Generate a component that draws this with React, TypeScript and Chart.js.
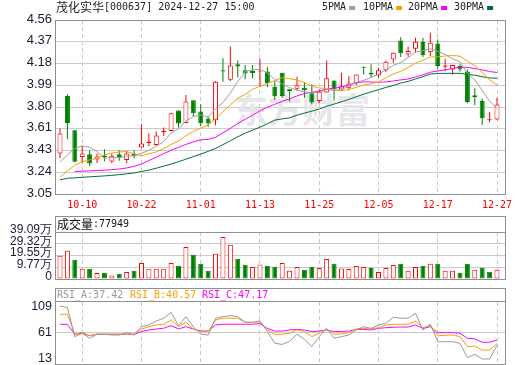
import React, { useEffect, useRef } from "react";
import { Chart, registerables } from "chart.js";

Chart.register(...registerables);

// ---------------- data ----------------
const stockName = "茂化实华";
const stockCode = "000637";
const stamp = "2024-12-27 15:00";

const dates = [
  "09-30", "10-08", "10-09", "10-10", "10-11", "10-14", "10-15", "10-16", "10-17", "10-18",
  "10-21", "10-22", "10-23", "10-24", "10-25", "10-28", "10-29", "10-30", "10-31", "11-01",
  "11-04", "11-05", "11-06", "11-07", "11-08", "11-11", "11-12", "11-13", "11-14", "11-15",
  "11-18", "11-19", "11-20", "11-21", "11-22", "11-25", "11-26", "11-27", "11-28", "11-29",
  "12-02", "12-03", "12-04", "12-05", "12-06", "12-09", "12-10", "12-11", "12-12", "12-13",
  "12-16", "12-17", "12-18", "12-19", "12-20", "12-23", "12-24", "12-25", "12-26", "12-27",
];

const openP = [
  3.402, 3.9, 3.603, 3.372, 3.395, 3.35, 3.384, 3.332, 3.395, 3.346,
  3.402, 3.453, 3.493, 3.476, 3.586, 3.597, 3.774, 3.667, 3.863, 3.765,
  3.705, 3.69, 4.123, 4.042, 4.175, 4.123, 4.117, 4.112, 4.112, 3.98,
  4.103, 3.958, 3.964, 3.973, 3.924, 3.857, 3.93, 4.036, 3.956, 3.973,
  4.008, 4.155, 4.103, 4.079, 4.125, 4.218, 4.383, 4.261, 4.311, 4.368,
  4.281, 4.357, 4.155, 4.131, 4.16, 4.112, 3.906, 3.857, 3.69, 3.696,
];
const highP = [
  3.618, 3.915, 3.605, 3.467, 3.43, 3.402, 3.439, 3.402, 3.43, 3.424,
  3.43, 3.655, 3.577, 3.592, 3.627, 3.755, 3.776, 3.909, 3.865, 3.828,
  3.727, 4.03, 4.227, 4.331, 4.209, 4.169, 4.169, 4.224, 4.151, 4.03,
  4.103, 3.96, 4.068, 4.021, 4.002, 3.958, 4.209, 4.036, 4.103, 4.071,
  4.088, 4.155, 4.175, 4.146, 4.209, 4.278, 4.411, 4.328, 4.406, 4.406,
  4.449, 4.391, 4.224, 4.171, 4.175, 4.131, 3.967, 3.878, 3.762, 3.886,
];
const lowP = [
  3.361, 3.525, 3.325, 3.32, 3.294, 3.32, 3.335, 3.318, 3.338, 3.318,
  3.361, 3.45, 3.467, 3.47, 3.554, 3.595, 3.627, 3.665, 3.722, 3.641,
  3.632, 3.647, 4.025, 4.03, 4.06, 4.045, 4.054, 3.978, 3.978, 3.866,
  3.886, 3.852, 3.95, 3.886, 3.828, 3.837, 3.928, 3.863, 3.95, 3.95,
  3.996, 4.088, 4.06, 4.06, 4.108, 4.189, 4.238, 4.241, 4.276, 4.238,
  4.247, 4.137, 4.117, 4.088, 4.112, 3.837, 3.82, 3.649, 3.67, 3.694,
];
const closeP = [
  3.575, 3.666, 3.329, 3.402, 3.315, 3.376, 3.372, 3.381, 3.372, 3.402,
  3.378, 3.488, 3.505, 3.557, 3.597, 3.751, 3.661, 3.852, 3.751, 3.664,
  3.661, 4.025, 4.112, 4.166, 4.157, 4.095, 4.1, 4.12, 4.013, 3.898,
  3.9, 3.944, 3.993, 3.95, 3.843, 3.938, 4.054, 3.958, 3.984, 4.008,
  4.086, 4.146, 4.088, 4.123, 4.198, 4.276, 4.272, 4.29, 4.371, 4.255,
  4.363, 4.16, 4.166, 4.169, 4.131, 3.848, 3.892, 3.707, 3.699, 3.826,
];

const ma5 = [
  3.325, 3.39, 3.445, 3.467, 3.457, 3.418, 3.359, 3.369, 3.363, 3.381,
  3.381, 3.404, 3.429, 3.466, 3.505, 3.58, 3.614, 3.684, 3.722, 3.736,
  3.718, 3.791, 3.843, 3.926, 4.024, 4.111, 4.127, 4.133, 4.099, 4.045,
  4.005, 3.974, 3.95, 3.937, 3.926, 3.934, 3.956, 3.949, 3.955, 3.988,
  4.018, 4.036, 4.062, 4.09, 4.128, 4.166, 4.191, 4.233, 4.282, 4.294,
  4.311, 4.287, 4.263, 4.223, 4.198, 4.095, 4.041, 3.949, 3.855, 3.794,
];
const ma10 = [
  3.195, 3.25, 3.3, 3.33, 3.345, 3.36, 3.39, 3.405, 3.415, 3.419,
  3.399, 3.382, 3.399, 3.415, 3.443, 3.48, 3.509, 3.556, 3.594, 3.62,
  3.649, 3.702, 3.763, 3.824, 3.88, 3.914, 3.959, 3.985, 4.011, 4.035,
  4.059, 4.051, 4.039, 4.017, 3.986, 3.97, 3.965, 3.949, 3.946, 3.957,
  3.976, 3.996, 4.006, 4.023, 4.058, 4.092, 4.114, 4.148, 4.186, 4.211,
  4.239, 4.24, 4.248, 4.252, 4.246, 4.203, 4.165, 4.106, 4.039, 3.996,
];
const ma20 = [
  null, null, 3.245, 3.248, 3.251, 3.254, 3.257, 3.261, 3.267, 3.276,
  3.29, 3.31, 3.34, 3.37, 3.4, 3.43, 3.455, 3.48, 3.502, 3.52,
  3.524, 3.542, 3.581, 3.619, 3.661, 3.698, 3.734, 3.771, 3.803, 3.828,
  3.854, 3.876, 3.901, 3.921, 3.933, 3.942, 3.962, 3.967, 3.979, 3.996,
  4.017, 4.023, 4.022, 4.02, 4.022, 4.031, 4.04, 4.048, 4.066, 4.084,
  4.107, 4.118, 4.127, 4.138, 4.152, 4.148, 4.139, 4.127, 4.113, 4.104,
];
const ma30 = [
  3.173, 3.186, 3.19, 3.195, 3.199, 3.203, 3.207, 3.212, 3.218, 3.225,
  3.233, 3.245, 3.258, 3.274, 3.292, 3.31, 3.33, 3.352, 3.375, 3.396,
  3.42, 3.446, 3.478, 3.512, 3.546, 3.578, 3.604, 3.63, 3.66, 3.691,
  3.702, 3.711, 3.734, 3.752, 3.769, 3.788, 3.811, 3.83, 3.851, 3.871,
  3.894, 3.916, 3.936, 3.955, 3.975, 3.992, 4.013, 4.027, 4.048, 4.068,
  4.091, 4.096, 4.097, 4.097, 4.097, 4.088, 4.081, 4.068, 4.057, 4.055,
];

const volumes = [
  194000, 235000, 160000, 86000, 86000, 50000, 52000, 30000, 44000, 58000,
  69000, 133000, 86000, 86000, 86000, 133000, 111000, 266000, 202000, 127000,
  69000, 210000, 349000, 285000, 169000, 119000, 100000, 120000, 111000, 102000,
  133000, 69000, 100000, 77000, 102000, 91000, 166000, 127000, 88000, 83000,
  108000, 100000, 91000, 58000, 91000, 116000, 127000, 69000, 100000, 111000,
  127000, 127000, 69000, 69000, 52000, 127000, 77000, 94000, 61000, 77949,
];

const rsiA = [
  110.9, 108, 53.5, 59.8, 50.5, 58, 58, 56.6, 56.6, 61,
  56.6, 72.2, 75.4, 82.9, 87.9, 99.1, 74.1, 90.9, 72.2, 58,
  56.6, 87.9, 90.9, 92.8, 90.9, 80.4, 80.4, 83, 63, 41,
  39, 45, 58, 48.6, 35, 53.5, 69, 50.5, 53.5, 56.6,
  66, 72, 69, 75, 78.5, 89.8, 88, 88, 97.3, 66,
  77, 44, 44, 44, 41, 14.2, 20.5, 11.7, 11.7, 37.42,
];
const rsiB = [
  95.4, 95.4, 58, 61.7, 55.3, 58, 58, 58, 58, 58,
  58, 67.9, 72.2, 75.4, 76.7, 84.7, 72.2, 80.4, 67.9, 62.9,
  62.9, 84.7, 87.9, 87.9, 87.9, 80.4, 80.4, 81, 66, 58,
  58, 59.8, 66, 63, 53.5, 59.8, 68, 58, 58.5, 61,
  68, 69, 68, 70.3, 75.4, 76.7, 76.7, 76.7, 83, 70,
  75, 55, 56, 56.6, 53.5, 34.7, 35.9, 28.4, 28.4, 40.57,
];
const rsiC = [
  76.7, 76.7, 58, 59.8, 55.3, 58, 58, 58, 58, 58,
  58, 62.9, 66, 67.9, 69.2, 74.1, 67.9, 72.2, 67.9, 64.1,
  64.1, 75.4, 76.7, 76.7, 76.7, 76.7, 76.7, 78, 69, 64,
  64, 66, 67, 66, 63, 64, 66, 63, 63, 64,
  67, 67, 66, 69, 70.3, 71, 71.5, 71.5, 75.4, 69,
  72, 61, 61, 61, 60, 50.5, 49.3, 43, 43, 47.17,
];

const priceTickLabels = ["3.05", "3.24", "3.43", "3.61", "3.80", "3.99", "4.18", "4.37", "4.56"];
const priceMin = 3.05;
const priceMax = 4.56;
const volTickLabels = ["0", "9.77万", "19.55万", "29.32万", "39.09万"];
const volMax = 390900;
const rsiTicks = [13, 61, 109];
const dateTickIdx = [3, 11, 19, 27, 35, 43, 51, 59];

const maNames = ["5PMA", "10PMA", "20PMA", "30PMA"];
const maColors = ["#a0a0a0", "#f5a300", "#ff00ff", "#006f35"];
const rsiNames = ["RSI_A", "RSI_B", "RSI_C"];
const rsiColors = ["#999999", "#f5a300", "#ff00ff"];

// ---------------- styling ----------------
const RED = "#ff0000";
const GREEN = "#008000";
const BORDER = "#8f8f8f";
const GRID = "#cccccc";
const MONO = "'DejaVu Sans Mono', monospace";
const CJK = "'Noto Sans CJK SC', sans-serif";
const SANS = "'Liberation Sans', Arial, sans-serif";
const X_MIN = -0.675;
const X_MAX = 60.08;
const AXIS_W = 55;
const PAD_R = 15;

const idx = dates.map((_, i) => i);

function xAxis(showLabels: boolean) {
  return {
    type: "linear",
    min: X_MIN,
    max: X_MAX,
    offset: false,
    afterBuildTicks: (s: any) => {
      s.ticks = dateTickIdx.map((v) => ({ value: v }));
    },
    ticks: {
      display: showLabels,
      autoSkip: false,
      maxRotation: 0,
      minRotation: 0,
      color: RED,
      font: { family: MONO, size: 10 },
      padding: 5,
      callback: (v: any) => dates[v] ?? "",
    },
    grid: { color: "#c8c8c8", lineWidth: 1, drawTicks: false, offset: false },
    border: { display: false, dash: [4, 3] },
    afterFit: (s: any) => {
      s.height = showLabels ? 19 : 0;
      s.paddingLeft = 0;
      s.paddingRight = 0;
    },
  };
}

function yFit(s: any) {
  s.width = AXIS_W;
  s.paddingTop = 0;
  s.paddingBottom = 0;
}

function drawMono(ctx: CanvasRenderingContext2D, text: string, x: number, y: number, color: string) {
  ctx.font = `10px ${MONO}`;
  ctx.fillStyle = color;
  ctx.fillText(text, x, y);
}

export default function App() {
  const mainRef = useRef<HTMLCanvasElement>(null);
  const volRef = useRef<HTMLCanvasElement>(null);
  const rsiRef = useRef<HTMLCanvasElement>(null);

  useEffect(() => {
    document.body.style.margin = "0";
    const up = closeP.map((c, i) => c >= openP[i]);
    const volUp = closeP.map((c, i) => (i === 0 ? true : c >= closeP[i - 1]));

    const mainDecor = {
      id: "mainDecor",
      beforeDatasetsDraw(chart: any) {
        const ctx = chart.ctx as CanvasRenderingContext2D;
        ctx.save();
        ctx.font = `bold 34px ${CJK}`;
        ctx.fillStyle = "#e6e6eb";
        ctx.textBaseline = "middle";
        ctx.fillText("东方财富", 234, 110);
        ctx.restore();
      },
      afterDraw(chart: any) {
        const ctx = chart.ctx as CanvasRenderingContext2D;
        const a = chart.chartArea;
        ctx.save();
        ctx.strokeStyle = BORDER;
        ctx.lineWidth = 1;
        ctx.strokeRect(a.left + 0.5, a.top + 0.5, a.right - a.left, a.bottom - a.top);
        ctx.textBaseline = "middle";
        ctx.fillStyle = "#222";
        ctx.font = `12px ${CJK}`;
        ctx.fillText(stockName, 56, 7.5);
        drawMono(ctx, `[${stockCode}] ${stamp}`, 104, 7.5, "#222");
        const lx = [322, 363, 408, 454];
        maNames.forEach((n, k) => {
          drawMono(ctx, n, lx[k], 7.5, "#222");
          const w = ctx.measureText(n).width;
          ctx.fillStyle = maColors[k];
          ctx.fillRect(lx[k] + w + 3, 6, 6, 4);
        });
        ctx.restore();
      },
    };

    const volDecor = {
      id: "volDecor",
      afterDraw(chart: any) {
        const ctx = chart.ctx as CanvasRenderingContext2D;
        const a = chart.chartArea;
        ctx.save();
        ctx.strokeStyle = BORDER;
        ctx.lineWidth = 1;
        ctx.strokeRect(a.left + 0.5, 3.5, a.right - a.left, a.bottom - 3);
        ctx.beginPath();
        ctx.moveTo(a.left, a.top + 0.5);
        ctx.lineTo(a.right + 1, a.top + 0.5);
        ctx.stroke();
        ctx.textBaseline = "middle";
        ctx.fillStyle = "#111";
        ctx.font = `12px ${CJK}`;
        ctx.fillText("成交量", 57, 11.5);
        drawMono(ctx, ":" + volumes[volumes.length - 1], 93, 11.5, "#111");
        ctx.restore();
      },
    };

    const rsiDecor = {
      id: "rsiDecor",
      afterDraw(chart: any) {
        const ctx = chart.ctx as CanvasRenderingContext2D;
        const a = chart.chartArea;
        ctx.save();
        ctx.strokeStyle = BORDER;
        ctx.lineWidth = 1;
        ctx.strokeRect(a.left + 0.5, 3.5, a.right - a.left, a.bottom - 3);
        ctx.beginPath();
        ctx.moveTo(a.left, a.top - 0.5);
        ctx.lineTo(a.right + 1, a.top - 0.5);
        ctx.stroke();
        ctx.textBaseline = "middle";
        const last = [rsiA, rsiB, rsiC].map((s) => s[s.length - 1].toFixed(2));
        const hx = [57, 130, 202];
        rsiNames.forEach((n, k) => drawMono(ctx, `${n}:${last[k]}`, hx[k], 10.5, rsiColors[k]));
        ctx.restore();
      },
    };

    const common = {
      responsive: false,
      animation: false,
      devicePixelRatio: 1,
      events: [],
      plugins: { legend: { display: false }, tooltip: { enabled: false } },
    };

    const maSeries = [ma5, ma10, ma20, ma30];

    const main = new Chart(mainRef.current!, {
      type: "bar",
      data: {
        datasets: [
          ...maSeries.map((s, k) => ({
            type: "line",
            data: idx.map((i) => ({ x: i, y: s[i] })),
            borderColor: maColors[k],
            borderWidth: 1,
            pointRadius: 0,
            tension: 0,
            spanGaps: false,
            order: 0,
          })),
          {
            type: "bar",
            data: idx.map((i) => ({ x: i, y: [openP[i], closeP[i]] })),
            backgroundColor: idx.map((i) => (up[i] ? "#ffffff" : GREEN)),
            borderColor: idx.map((i) => (up[i] ? RED : GREEN)),
            borderWidth: 1,
            borderSkipped: false,
            barThickness: 5,
            grouped: false,
            inflateAmount: 0,
            order: 1,
          },
          {
            type: "bar",
            data: idx.map((i) => ({ x: i, y: [lowP[i], highP[i]] })),
            backgroundColor: idx.map((i) => (up[i] ? RED : GREEN)),
            borderWidth: 0,
            barThickness: 1,
            grouped: false,
            inflateAmount: 0,
            order: 2,
          },
        ] as any,
      },
      options: {
        ...common,
        layout: { padding: { left: 0, right: PAD_R, top: 20, bottom: 0 } },
        scales: {
          x: xAxis(true),
          y: {
            type: "linear",
            min: priceMin,
            max: priceMax,
            afterBuildTicks: (s: any) => {
              s.ticks = priceTickLabels.map((_, k) => ({
                value: priceMin + (k * (priceMax - priceMin)) / (priceTickLabels.length - 1),
              }));
            },
            ticks: {
              autoSkip: false,
              callback: (_v: any, k: number) => priceTickLabels[k],
              color: "#1c1c30",
              font: { family: SANS, size: 13 },
              padding: 3,
              labelOffset: -1,
            },
            grid: { color: GRID, drawTicks: false },
            border: { display: false },
            afterFit: yFit,
          },
        },
      } as any,
      plugins: [mainDecor],
    });

    const vol = new Chart(volRef.current!, {
      type: "bar",
      data: {
        datasets: [
          {
            data: idx.map((i) => ({ x: i, y: volumes[i] })),
            backgroundColor: idx.map((i) => (volUp[i] ? "#ffffff" : GREEN)),
            borderColor: idx.map((i) => (volUp[i] ? RED : GREEN)),
            borderWidth: 1,
            borderSkipped: false,
            barThickness: 5,
            inflateAmount: 0,
          },
        ],
      },
      options: {
        ...common,
        layout: { padding: { left: 0, right: PAD_R, top: 19, bottom: 6 } },
        scales: {
          x: xAxis(false),
          y: {
            type: "linear",
            min: 0,
            max: volMax,
            afterBuildTicks: (s: any) => {
              s.ticks = volTickLabels.map((_, k) => ({ value: (k * volMax) / (volTickLabels.length - 1) }));
            },
            ticks: {
              autoSkip: false,
              callback: (_v: any, k: number) => volTickLabels[k],
              color: "#1c1c30",
              font: { family: SANS, size: 12 },
              padding: 3,
              labelOffset: -2.5,
            },
            grid: { color: GRID, drawTicks: false },
            border: { display: false },
            afterFit: yFit,
          },
        },
      } as any,
      plugins: [volDecor],
    });

    const rsiSeries = [rsiA, rsiB, rsiC];
    const rsi = new Chart(rsiRef.current!, {
      type: "line",
      data: {
        datasets: rsiSeries.map((s, k) => ({
          data: idx.map((i) => ({ x: i, y: s[i] })),
          borderColor: rsiColors[k],
          borderWidth: 1,
          pointRadius: 0,
          tension: 0,
        })),
      },
      options: {
        ...common,
        layout: { padding: { left: 0, right: PAD_R, top: 17, bottom: 1 } },
        scales: {
          x: xAxis(false),
          y: {
            type: "linear",
            min: 2.33,
            max: 118.36,
            afterBuildTicks: (s: any) => {
              s.ticks = rsiTicks.map((v) => ({ value: v }));
            },
            ticks: {
              autoSkip: false,
              callback: (v: any) => String(v),
              color: "#1c1c30",
              font: { family: SANS, size: 12.5 },
              padding: 3,
            },
            grid: {
              color: (c: any) => (c.tick && c.tick.value === 61 ? GRID : "rgba(0,0,0,0)"),
              drawTicks: false,
            },
            border: { display: false },
            afterFit: yFit,
          },
        },
      } as any,
      plugins: [rsiDecor],
    });

    return () => {
      main.destroy();
      vol.destroy();
      rsi.destroy();
    };
  }, []);

  return (
    <div style={{ position: "absolute", left: 0, top: 0, width: 520, height: 365, background: "#fff" }}>
      <canvas ref={mainRef} width={520} height={213} style={{ position: "absolute", left: 0, top: 0 }} />
      <canvas ref={volRef} width={520} height={72} style={{ position: "absolute", left: 0, top: 213 }} />
      <canvas ref={rsiRef} width={520} height={80} style={{ position: "absolute", left: 0, top: 285 }} />
    </div>
  );
}
